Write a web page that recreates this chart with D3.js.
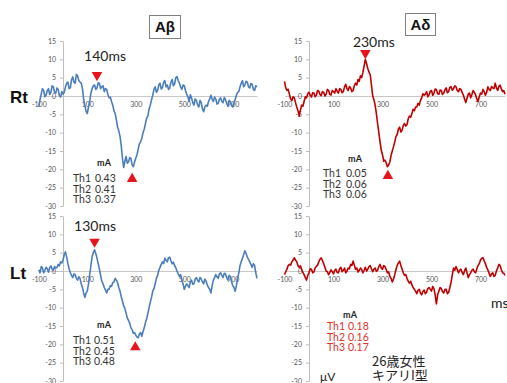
<!DOCTYPE html>
<html>
<head>
<meta charset="utf-8">
<script src="https://cdn.jsdelivr.net/npm/d3@7"></script>
<style>
  html, body { margin: 0; padding: 0; background: #fff; }
  svg { display: block; }
</style>
</head>
<body>
<svg id="chart" width="507" height="383"></svg>
<script>
// Sampling grid of the averaged waveforms (ms after stimulus, 5 ms steps)
const timeMs = d3.range(-100, 801, 5);

// Right side, Aβ fibres (µV)
const rtAbeta = [
  -3,-1.0,0.5,2.0,1.5,-0.2,0.2,1.5,2,0.4,
  1,2.8,2.5,1.0,0.8,2.2,1.8,0.1,-0.3,1.2,
  0.5,1.0,2.5,3.5,3.8,2.0,2.2,4.4,5.2,3.8,
  3.5,5.9,5.5,4.2,3.8,3.5,2,-0.8,-2.5,-4.2,
  -4.8,-3.0,-1.5,0.8,2,2.8,3,1.8,2.2,3.6,
  3.4,2.0,2.5,2.8,1.2,2.0,1.8,0.4,-0.5,-0.3,
  -1.5,-2.5,-4,-4.8,-6.5,-8.5,-9.5,-11.0,-13.5,-17.0,
  -19.5,-17.8,-16.5,-18.3,-18,-16.8,-17,-18.8,-19.3,-18.0,
  -17,-16.0,-14.5,-13.0,-12.5,-11.5,-10,-9.0,-7.5,-6.0,
  -5.5,-3.5,-2.5,-1.0,0.2,1.8,2.5,1.0,1.5,3.0,
  3.5,1.9,2.3,3.8,4.2,2.5,3,1.8,2.2,3.8,
  4.5,2.8,3.2,5.0,5.3,4.2,3.5,2.5,1.8,3.0,
  2.8,1.5,0.5,-0.2,-1.5,0.3,-0.5,-1.8,-2.5,-0.8,
  -1.2,-2.5,-3,-1.2,-1.8,-3.5,-4.3,-3.0,-2.5,-2.8,
  -1.5,-0.8,0.2,-0.9,-1.5,-0.3,-0.8,-2.2,-2,-0.9,
  -0.5,-1.5,-1.8,-0.4,-1,-2.0,-2.8,-1.2,-1.5,-2.6,
  -3,-1.8,-1,0.2,1,1.2,2.5,3.5,4.2,2.5,
  3,4.0,3.8,2.5,2.2,3.4,3.2,1.8,1.5,2.8,2.5];

// Right side, Aδ fibres (µV)
const rtAdelta = [
  4,2.2,1.5,1.8,0.5,-0.8,-1.2,-0.2,-0.5,-1.8,
  -3,-4.0,-5.5,-3.8,-2.5,-2.8,-1.5,-0.2,-0.5,0.6,
  1,0.2,-0.3,0.9,0.8,-0.2,0.2,1.5,1.3,0.4,
  0.1,1.2,1,0.0,0.5,1.8,1.5,0.4,0.3,1.5,
  1.2,0.8,2,1.3,0.8,2.0,1.8,0.9,1.2,2.5,
  3.2,2.0,1.5,2.6,2.2,1.2,1.5,2.8,3.5,3.0,
  4.5,4.0,5.5,5.0,6.5,8.2,10,8.8,7.5,6.5,
  5.8,3.0,0,-1.0,-2.5,-4.8,-7.5,-10.0,-12.5,-14.8,
  -16,-17.8,-17.5,-18.2,-19.3,-18.8,-18,-16.2,-15,-13.8,
  -12.5,-11.0,-10.5,-9.0,-8.5,-9.8,-9.3,-8.0,-7.5,-8.2,
  -7.8,-6.2,-5.5,-5.8,-4.8,-3.6,-4,-3.0,-3,-2.0,
  -2.5,-1.2,-0.5,0.6,0.2,0.5,1.2,-0.2,0.3,1.3,
  1.5,0.2,0.8,1.9,1.8,0.6,0.5,1.6,1.5,0.4,
  0.8,1.7,2.2,0.9,1.2,2.4,2.5,1.6,2,2.8,
  2.5,1.5,1.2,2.0,1.8,1.0,0.2,-0.8,-1.8,-0.6,
  0.5,0.8,-0.5,0.4,1.5,1.0,0.3,-0.8,-1.5,-0.2,
  0.8,0.5,1.8,1.2,0.2,1.0,2.5,1.8,1.5,2.6,
  2.2,2.0,3.5,2.2,1.5,2.6,3,2.0,1.2,1.5,0.5];

// Left side, Aβ fibres (µV)
const ltAbeta = [
  0.3,-0.5,1.2,0.8,-0.5,0.2,1,0.6,-0.3,0.9,
  1.4,0.5,0.2,1.2,0.8,1.0,1.8,1.4,2.5,2.2,
  3,4.5,5.2,3.8,2,0.6,-0.5,-1.2,-1.8,-0.8,
  -1,-2.0,-2.5,-1.6,-2,-3.5,-4.5,-6.0,-7.2,-6.0,
  -5.5,-3.5,-1,1.5,4,5.0,5.8,4.8,3.5,2.0,
  0.5,-1.2,-2.8,-3.5,-4.5,-5.2,-6,-5.0,-5,-4.0,
  -4.2,-3.2,-3,-2.0,-2.5,-3.2,-4.5,-5.5,-7,-8.2,
  -9.5,-10.2,-11.5,-12.8,-13.5,-14.2,-15.5,-16.0,-17,-16.8,
  -17.5,-18.0,-18.2,-17.2,-16.8,-17.8,-16.5,-15.5,-14,-13.0,
  -11.5,-10.0,-8.5,-7.2,-5.5,-4.8,-3.5,-2.0,-1.2,0.2,
  1,1.8,2.5,2.0,3.5,3.0,2.5,3.6,3.8,2.8,
  2,2.4,1.5,0.9,0,-0.8,-1.5,-1.0,-2.5,-3.5,
  -5,-4.2,-3.5,-4.0,-4.5,-3.0,-2.5,-3.6,-3.5,-2.2,
  -1.8,-2.6,-3,-1.8,-2.2,-3.0,-3.5,-2.2,-2.8,-3.8,
  -4.5,-5.0,-6,-4.0,-2.5,-1.8,-1,-1.6,-2,-0.8,
  -0.5,-1.2,-1.8,-0.6,-0.8,-1.8,-2.5,-1.2,-1.5,-2.8,
  -4,-4.5,-5.5,-4.0,-2,-0.5,1.5,2.5,3.5,4.5,
  5.5,4.8,3.8,3.2,2.5,1.8,1,2.0,1.5,-0.5,-2];

// Left side, Aδ fibres (µV)
const ltAdelta = [
  -1,-0.2,0.5,1.5,1.8,1.6,2.5,3.0,3.6,3.0,
  2.5,1.5,1,1.4,0.5,-0.4,-1,-1.8,-2.5,-1.2,
  -0.5,0.6,0.5,-0.5,-0.3,0.8,1.2,1.6,2.5,3.2,
  3.6,2.8,2,1.0,0,-0.2,-1,-0.4,0.3,-0.2,
  -0.8,0.2,0.5,-0.4,-0.5,0.6,1,-0.2,0.2,0.8,
  -0.5,0.0,0.8,0.6,1.8,1.5,2.7,1.6,0.5,0.8,
  -0.3,0.2,0.8,0.4,-0.5,0.2,1,0.0,0.5,1.2,
  1.5,0.6,-0.2,0.5,0.8,-0.1,0.2,1.2,1.8,0.8,
  0.5,1.5,1.2,0.4,-0.5,-0.2,-1.5,-2.0,-3,-2.2,
  -1,0.4,1.5,2.2,2.7,1.5,0.5,-0.5,-1.2,-1.0,
  -2,-2.8,-3.3,-2.8,-3.8,-4.5,-5,-5.5,-6.2,-5.2,
  -5,-6.0,-6.5,-5.6,-5.2,-6.2,-5.8,-4.8,-4.5,-5.0,
  -5.5,-4.2,-4.8,-6.5,-9,-6.5,-5.5,-4.5,-4.8,-5.6,
  -6,-5.0,-5,-6.2,-5.8,-4.5,-3,-1.0,0.8,0.2,
  1.2,0.4,-0.5,0.2,0.5,-0.4,-1,0.1,0.8,-0.5,
  -1.8,-1.0,-0.5,0.2,0.5,-0.2,-0.5,0.6,1.5,2.0,
  3,3.5,3.6,2.8,2,1.0,0.3,-0.6,-1.5,-0.8,
  -0.5,-1.5,-1.2,0.0,0.8,1.8,1.5,0.4,-0.5,-0.6,-1.2];

// Axis ticks
const yTicks = [15, 10, 5, 0, -5, -10, -15, -20, -25, -30];
const xTicks = [-100, 100, 300, 500, 700];

// Stimulus thresholds (mA)
const thLabels = ["Th1", "Th2", "Th3"];
const thRtAbeta = ["0.43", "0.41", "0.37"];
const thRtAdelta = ["0.05", "0.06", "0.06"];
const thLtAbeta = ["0.51", "0.45", "0.48"];
const thLtAdelta = ["0.18", "0.16", "0.17"];

// Latency markers: [ms, µV] for the ▼ peak and ▲ trough
const peakRtAbeta = [140, 5.7];
const troughRtAbeta = [285, -22.6];
const peakRtAdelta = [230, 11.7];
const troughRtAdelta = [322, -21.8];
const peakLtAbeta = [130, 8];
const troughLtAbeta = [298, -20.8];

const svg = d3.select("#chart");
const BLUE = "#4a7ebb";
const RED = "#c00000";
const FONT = "Lato, 'Open Sans', sans-serif";

const panels = [
  { data: rtAbeta, color: BLUE, xr: [38.8, 257], yr: [206, 41],
    th: thRtAbeta, thColor: "#333", mA: [104, 166], thPos: [73, 95, 182],
    peak: peakRtAbeta, trough: troughRtAbeta, latency: "140ms", latOff: [8, -14] },
  { data: rtAdelta, color: RED, xr: [284.5, 505], yr: [206, 41],
    th: thRtAdelta, thColor: "#333", mA: [355, 162], thPos: [323, 346, 177],
    peak: peakRtAdelta, trough: troughRtAdelta, latency: "230ms", latOff: [8.5, -6] },
  { data: ltAbeta, color: BLUE, xr: [38.8, 257], yr: [381, 216],
    th: thLtAbeta, thColor: "#333", mA: [104, 328], thPos: [73, 94, 344],
    peak: peakLtAbeta, trough: troughLtAbeta, latency: "130ms", latOff: [0.5, -10.5] },
  { data: ltAdelta, color: RED, xr: [284.5, 505], yr: [381, 216],
    th: thLtAdelta, thColor: "#e0302a", mA: [350, 318], thPos: [327, 348, 330],
    peak: null, trough: null, latency: null, latOff: null }
];

panels.forEach(p => {
  const x = d3.scaleLinear().domain([-100, 800]).range(p.xr);
  const y = d3.scaleLinear().domain([-30, 15]).range(p.yr);
  const g = svg.append("g");

  // horizontal zero axis with ms labels
  const xa = g.append("g")
    .attr("transform", `translate(0,${y(0)})`)
    .call(d3.axisBottom(x).tickValues(xTicks).tickSize(0).tickPadding(6)
      .tickFormat(d => String(d)));
  xa.select(".domain").attr("stroke", "#c8c8c8");
  xa.selectAll("text").attr("font-family", FONT).attr("font-size", 7).attr("fill", "#555");

  // vertical µV axis
  const ya = g.append("g")
    .attr("transform", `translate(${x(0)},0)`)
    .call(d3.axisLeft(y).tickValues(yTicks).tickSize(3).tickSizeOuter(0).tickPadding(4)
      .tickFormat(d => String(d)));
  ya.select(".domain").attr("stroke", "#bdbdbd");
  ya.selectAll(".tick line").attr("stroke", "#bdbdbd");
  ya.selectAll("text").attr("font-family", FONT).attr("font-size", 7).attr("fill", "#555");

  // waveform
  const line = d3.line().x((d, i) => x(timeMs[i])).y(d => y(d));
  g.append("path").datum(p.data)
    .attr("d", line)
    .attr("fill", "none")
    .attr("stroke", p.color)
    .attr("stroke-width", 1.6)
    .attr("stroke-linejoin", "round");

  // latency markers
  const tri = d3.symbol().type(d3.symbolTriangle).size(48);
  if (p.peak) {
    g.append("path").attr("d", tri)
      .attr("transform", `translate(${x(p.peak[0])},${y(p.peak[1])}) rotate(180)`)
      .attr("fill", "#e8141c");
    g.append("text").text(p.latency)
      .attr("x", x(p.peak[0]) + p.latOff[0]).attr("y", y(p.peak[1]) + p.latOff[1])
      .attr("text-anchor", "middle")
      .attr("font-family", FONT).attr("font-size", 14).attr("fill", "#222");
  }
  if (p.trough) {
    g.append("path").attr("d", tri)
      .attr("transform", `translate(${x(p.trough[0])},${y(p.trough[1])})`)
      .attr("fill", "#e8141c");
  }

  // threshold table
  g.append("text").text("mA")
    .attr("x", p.mA[0]).attr("y", p.mA[1])
    .attr("text-anchor", "middle")
    .attr("font-family", FONT).attr("font-weight", "bold")
    .attr("font-size", 9).attr("fill", "#222");
  thLabels.forEach((lab, i) => {
    g.append("text").text(lab)
      .attr("x", p.thPos[0]).attr("y", p.thPos[2] + i * 10.7)
      .attr("font-family", FONT).attr("font-size", 10.5).attr("fill", p.thColor);
    g.append("text").text(p.th[i])
      .attr("x", p.thPos[1]).attr("y", p.thPos[2] + i * 10.7)
      .attr("font-family", FONT).attr("font-size", 10.5).attr("fill", p.thColor);
  });
});

// column headings in boxes
[["Aβ", 149, 15, 31, 23], ["Aδ", 405, 13, 30, 22]].forEach(([t, bx, by, bw, bh]) => {
  svg.append("rect").attr("x", bx + 0.5).attr("y", by + 0.5)
    .attr("width", bw).attr("height", bh)
    .attr("fill", "#fff").attr("stroke", "#7f7f7f").attr("stroke-width", 1);
  svg.append("text").text(t)
    .attr("x", bx + bw / 2 + 0.5).attr("y", by + bh / 2 + 5.5)
    .attr("text-anchor", "middle")
    .attr("font-family", "'Liberation Sans', Arial, sans-serif")
    .attr("font-weight", "bold").attr("font-size", 15).attr("fill", "#111");
});

// row headings
[["Rt", 103], ["Lt", 279]].forEach(([t, yy]) => {
  svg.append("text").text(t)
    .attr("x", 10).attr("y", yy)
    .attr("font-family", "'Liberation Sans Narrow', 'Arial Narrow', sans-serif")
    .attr("font-weight", "bold").attr("font-size", 17).attr("fill", "#111");
});

// units and case note
svg.append("text").text("ms").attr("x", 491).attr("y", 308)
  .attr("font-family", FONT).attr("font-size", 14).attr("fill", "#222");
svg.append("text").text("μV").attr("x", 320).attr("y", 381)
  .attr("font-family", FONT).attr("font-size", 12).attr("fill", "#222");
svg.append("text").text("26歳女性").attr("x", 372).attr("y", 366)
  .attr("font-family", "'Noto Sans CJK JP', sans-serif").attr("font-size", 13).attr("fill", "#222");
svg.append("text").text("キアリI型").attr("x", 372).attr("y", 380)
  .attr("font-family", "'Noto Sans CJK JP', sans-serif").attr("font-size", 13).attr("fill", "#222");
</script>
</body>
</html>
